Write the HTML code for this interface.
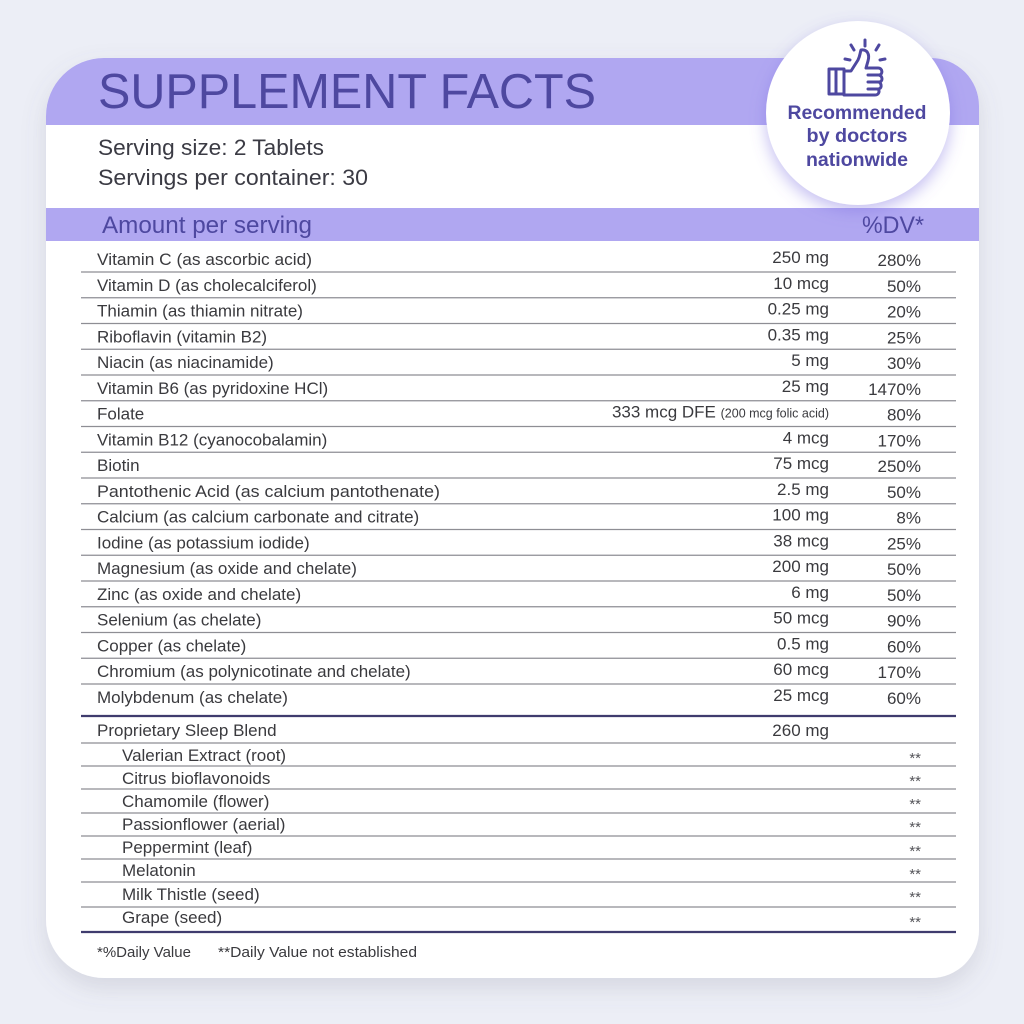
<!DOCTYPE html>
<html>
<head>
<meta charset="utf-8">
<style>
  html,body{margin:0;padding:0;width:1024px;height:1024px;overflow:hidden;background:#eceef6;}
  svg{display:block;}
  text{font-family:"Liberation Sans",sans-serif;}
  .lbl{font-size:17px;fill:#3a3a3e;}
  .amt{font-size:17px;fill:#3a3a3e;text-anchor:end;}
  .dv{font-size:17px;fill:#3a3a3e;text-anchor:end;}
  .star{font-size:15px;fill:#55555a;text-anchor:end;}
  .thin{stroke:#8e8e94;stroke-width:1.3;}
  .thick{stroke:#3f3c6e;stroke-width:2.2;}
</style>
</head>
<body>
<svg width="1024" height="1024" viewBox="0 0 1024 1024" xmlns="http://www.w3.org/2000/svg">
  <defs>
    <filter id="cardShadow" x="-10%" y="-10%" width="120%" height="125%">
      <feDropShadow dx="0" dy="10" stdDeviation="12" flood-color="#6a6c80" flood-opacity="0.18"/>
    </filter>
    <filter id="circShadow" x="-30%" y="-30%" width="160%" height="170%">
      <feDropShadow dx="0" dy="6" stdDeviation="8" flood-color="#7c6fe0" flood-opacity="0.45"/>
    </filter>
    <clipPath id="cardClip">
      <path d="M46,116 A58,58 0 0 1 104,58 L931,58 A48,48 0 0 1 979,106 L979,930 A48,48 0 0 1 931,978 L104,978 A58,58 0 0 1 46,920 Z"/>
    </clipPath>
  </defs>

  <rect x="0" y="0" width="1024" height="1024" fill="#eceef6"/>

  <!-- card -->
  <path filter="url(#cardShadow)" fill="#ffffff" d="M46,116 A58,58 0 0 1 104,58 L931,58 A48,48 0 0 1 979,106 L979,930 A48,48 0 0 1 931,978 L104,978 A58,58 0 0 1 46,920 Z"/>
  <g clip-path="url(#cardClip)">
    <rect x="40" y="56" width="945" height="69" fill="#b0a7f1"/>
    <rect x="40" y="208" width="945" height="33" fill="#b0a7f1"/>
  </g>

  <!-- header text -->
  <text x="98" y="108" font-size="49" fill="#4e48a0" textLength="498" lengthAdjust="spacingAndGlyphs">SUPPLEMENT FACTS</text>
  <text x="98" y="155" font-size="22" fill="#3b3b44" textLength="226" lengthAdjust="spacingAndGlyphs">Serving size: 2 Tablets</text>
  <text x="98" y="185" font-size="22" fill="#3b3b44" textLength="270" lengthAdjust="spacingAndGlyphs">Servings per container: 30</text>
  <text x="102" y="233" font-size="24" fill="#4e48a0" textLength="210" lengthAdjust="spacingAndGlyphs">Amount per serving</text>
  <text x="862" y="233" font-size="24" fill="#4e48a0" textLength="62" lengthAdjust="spacingAndGlyphs">%DV*</text>

  <!-- badge -->
  <circle cx="858" cy="113" r="92" fill="#ffffff" filter="url(#circShadow)"/>
  <g fill="none" stroke="#4e48a0" stroke-width="3" stroke-linecap="round" stroke-linejoin="round">
    <line x1="865" y1="40" x2="865" y2="46"/>
    <line x1="851" y1="45" x2="854" y2="50"/>
    <line x1="879" y1="45" x2="876" y2="50"/>
    <line x1="845" y1="59" x2="850" y2="60"/>
    <line x1="885" y1="59" x2="880" y2="60"/>
    <rect x="829" y="69" width="15" height="25"/>
    <line x1="836" y1="69" x2="836" y2="94"/>
    <path d="M844,71 L851,71 L858,60 C860,56 860,53 861,50 C867,49 870,54 868,61 L866,68 L878,68 C883,68 883,75 879,75 C883,76 883,82 879,82 C882,84 882,89 878,89 C880,91 879,95 875,95 L844,95"/>
    <line x1="868" y1="75" x2="879" y2="75"/>
    <line x1="868" y1="82" x2="879" y2="82"/>
    <line x1="868" y1="89" x2="878" y2="89"/>
  </g>
  <g font-size="19" font-weight="bold" fill="#4e48a0" text-anchor="middle">
    <text x="857" y="119" textLength="139" lengthAdjust="spacingAndGlyphs">Recommended</text>
    <text x="857" y="142" textLength="101" lengthAdjust="spacingAndGlyphs">by doctors</text>
    <text x="857" y="166" textLength="102" lengthAdjust="spacingAndGlyphs">nationwide</text>
  </g>

  <!-- thin separators -->
  <g class="thin">
    <line x1="81" y1="272" x2="956" y2="272"/>
    <line x1="81" y1="297.75" x2="956" y2="297.75"/>
    <line x1="81" y1="323.5" x2="956" y2="323.5"/>
    <line x1="81" y1="349.25" x2="956" y2="349.25"/>
    <line x1="81" y1="375" x2="956" y2="375"/>
    <line x1="81" y1="400.75" x2="956" y2="400.75"/>
    <line x1="81" y1="426.5" x2="956" y2="426.5"/>
    <line x1="81" y1="452.25" x2="956" y2="452.25"/>
    <line x1="81" y1="478" x2="956" y2="478"/>
    <line x1="81" y1="503.75" x2="956" y2="503.75"/>
    <line x1="81" y1="529.5" x2="956" y2="529.5"/>
    <line x1="81" y1="555.25" x2="956" y2="555.25"/>
    <line x1="81" y1="581" x2="956" y2="581"/>
    <line x1="81" y1="606.75" x2="956" y2="606.75"/>
    <line x1="81" y1="632.5" x2="956" y2="632.5"/>
    <line x1="81" y1="658.25" x2="956" y2="658.25"/>
    <line x1="81" y1="684" x2="956" y2="684"/>
    <line x1="81" y1="743" x2="956" y2="743"/>
    <line x1="81" y1="766" x2="956" y2="766"/>
    <line x1="81" y1="789" x2="956" y2="789"/>
    <line x1="81" y1="813" x2="956" y2="813"/>
    <line x1="81" y1="836" x2="956" y2="836"/>
    <line x1="81" y1="859" x2="956" y2="859"/>
    <line x1="81" y1="882" x2="956" y2="882"/>
    <line x1="81" y1="907" x2="956" y2="907"/>
  </g>
  <g class="thick">
    <line x1="81" y1="716" x2="956" y2="716"/>
    <line x1="81" y1="932" x2="956" y2="932"/>
  </g>

  <!-- vitamin rows -->
  <text class="lbl" x="97" y="265" textLength="215" lengthAdjust="spacingAndGlyphs">Vitamin C (as ascorbic acid)</text>
  <text class="amt" x="829" y="263">250 mg</text><text class="dv" x="921" y="266">280%</text>

  <text class="lbl" x="97" y="290.75">Vitamin D (as cholecalciferol)</text>
  <text class="amt" x="829" y="288.75">10 mcg</text><text class="dv" x="921" y="291.75">50%</text>

  <text class="lbl" x="97" y="316.5">Thiamin (as thiamin nitrate)</text>
  <text class="amt" x="829" y="314.5">0.25 mg</text><text class="dv" x="921" y="317.5">20%</text>

  <text class="lbl" x="97" y="342.25">Riboflavin (vitamin B2)</text>
  <text class="amt" x="829" y="340.25">0.35 mg</text><text class="dv" x="921" y="343.25">25%</text>

  <text class="lbl" x="97" y="368">Niacin (as niacinamide)</text>
  <text class="amt" x="829" y="366">5 mg</text><text class="dv" x="921" y="369">30%</text>

  <text class="lbl" x="97" y="393.75">Vitamin B6 (as pyridoxine HCl)</text>
  <text class="amt" x="829" y="391.75">25 mg</text><text class="dv" x="921" y="394.75">1470%</text>

  <text class="lbl" x="97" y="419.5">Folate</text>
  <text class="amt" x="829" y="417.5">333 mcg DFE <tspan font-size="12.5">(200 mcg folic acid)</tspan></text><text class="dv" x="921" y="420.5">80%</text>

  <text class="lbl" x="97" y="445.25">Vitamin B12 (cyanocobalamin)</text>
  <text class="amt" x="829" y="443.25">4 mcg</text><text class="dv" x="921" y="446.25">170%</text>

  <text class="lbl" x="97" y="471">Biotin</text>
  <text class="amt" x="829" y="469">75 mcg</text><text class="dv" x="921" y="472">250%</text>

  <text class="lbl" x="97" y="496.75" textLength="343" lengthAdjust="spacingAndGlyphs">Pantothenic Acid (as calcium pantothenate)</text>
  <text class="amt" x="829" y="494.75">2.5 mg</text><text class="dv" x="921" y="497.75">50%</text>

  <text class="lbl" x="97" y="522.5">Calcium (as calcium carbonate and citrate)</text>
  <text class="amt" x="829" y="520.5">100 mg</text><text class="dv" x="921" y="523.5">8%</text>

  <text class="lbl" x="97" y="548.25">Iodine (as potassium iodide)</text>
  <text class="amt" x="829" y="546.25">38 mcg</text><text class="dv" x="921" y="549.25">25%</text>

  <text class="lbl" x="97" y="574">Magnesium (as oxide and chelate)</text>
  <text class="amt" x="829" y="572">200 mg</text><text class="dv" x="921" y="575">50%</text>

  <text class="lbl" x="97" y="599.75">Zinc (as oxide and chelate)</text>
  <text class="amt" x="829" y="597.75">6 mg</text><text class="dv" x="921" y="600.75">50%</text>

  <text class="lbl" x="97" y="625.5">Selenium (as chelate)</text>
  <text class="amt" x="829" y="623.5">50 mcg</text><text class="dv" x="921" y="626.5">90%</text>

  <text class="lbl" x="97" y="651.25">Copper (as chelate)</text>
  <text class="amt" x="829" y="649.25">0.5 mg</text><text class="dv" x="921" y="652.25">60%</text>

  <text class="lbl" x="97" y="677">Chromium (as polynicotinate and chelate)</text>
  <text class="amt" x="829" y="675">60 mcg</text><text class="dv" x="921" y="678">170%</text>

  <text class="lbl" x="97" y="702.75">Molybdenum (as chelate)</text>
  <text class="amt" x="829" y="700.75">25 mcg</text><text class="dv" x="921" y="703.75">60%</text>

  <!-- sleep blend -->
  <text class="lbl" x="97" y="736">Proprietary Sleep Blend</text>
  <text class="amt" x="829" y="736">260 mg</text>

  <text class="lbl" x="122" y="761">Valerian Extract (root)</text><text class="star" x="921" y="763">**</text>
  <text class="lbl" x="122" y="784">Citrus bioflavonoids</text><text class="star" x="921" y="786">**</text>
  <text class="lbl" x="122" y="807">Chamomile (flower)</text><text class="star" x="921" y="809">**</text>
  <text class="lbl" x="122" y="830">Passionflower (aerial)</text><text class="star" x="921" y="832">**</text>
  <text class="lbl" x="122" y="853">Peppermint (leaf)</text><text class="star" x="921" y="856">**</text>
  <text class="lbl" x="122" y="876">Melatonin</text><text class="star" x="921" y="879">**</text>
  <text class="lbl" x="122" y="900">Milk Thistle (seed)</text><text class="star" x="921" y="902">**</text>
  <text class="lbl" x="122" y="923">Grape (seed)</text><text class="star" x="921" y="927">**</text>

  <!-- footer -->
  <text x="97" y="957" font-size="15" fill="#3a3a3e">*%Daily Value</text>
  <text x="218" y="957" font-size="15" fill="#3a3a3e" textLength="199" lengthAdjust="spacingAndGlyphs">**Daily Value not established</text>
</svg>
</body>
</html>
